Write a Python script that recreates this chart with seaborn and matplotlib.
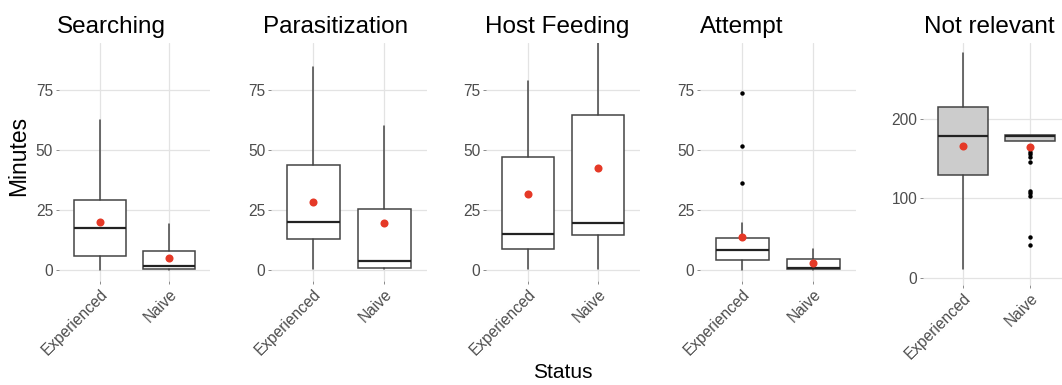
import matplotlib
matplotlib.use("Agg")
import matplotlib.pyplot as plt
import seaborn as sns
import pandas as pd

sns.set_theme(style="whitegrid")
plt.rcParams["font.family"] = ["Liberation Sans", "DejaVu Sans"]

behaviours = ["Searching", "Parasitization", "Host Feeding", "Attempt", "Not relevant"]
status = ["Experienced", "Naive"]

# Box summaries in minutes, one pair [Experienced, Naive] per behaviour
whisker_low = [[0, 0], [0.5, 0.5], [0.5, 0.5], [0, 0], [11, 172]]
q1 = [[6, 0.4], [13, 0.7], [8.6, 14.6], [4.2, 0.4], [130, 172]]
median = [[17.5, 1.8], [20, 3.9], [14.9, 19.4], [8.3, 0.7], [178.5, 178.5]]
q3 = [[29, 8], [43.8, 25.4], [47, 64.6], [13.2, 4.4], [215, 180.5]]
whisker_high = [[62.5, 19], [84.7, 60], [78.8, 97], [19.4, 8.6], [283, 180.5]]
mean_minutes = [[20.1, 4.9], [28.5, 19.4], [31.7, 42.6], [13.6, 2.8], [166.5, 165.2]]
outliers_experienced = [[], [], [], [73.6, 51.8, 36.1], []]
outliers_naive = [[], [], [], [], [159, 156, 152.5, 145.5, 109.7, 106.4, 103.4, 51, 41.2]]

y_ticks = [[0, 25, 50, 75]] * 4 + [[0, 100, 200]]
y_limits = [(-4.6, 94.6)] * 4 + [(-9.2, 296)]
box_fill = ["white"] * 4 + ["#cccccc"]

W, H = 1062, 385
fig = plt.figure(figsize=(W / 100, H / 100), dpi=100)
fig.patch.set_facecolor("white")

# panel extents in pixels: left, right, top, bottom
panels = [
    (58.6, 210.4, 43, 281),
    (270.7, 426.9, 43, 281),
    (486.0, 640.0, 43, 281),
    (699.7, 855.9, 43, 281),
    (922.8, 1070.2, 43, 285),
]
title_x = [57, 263, 485, 700, 924]

grey_text = "#4d4d4d"
red = "#e53927"

for i, name in enumerate(behaviours):
    l, r, t, b = panels[i]
    ax = fig.add_axes([l / W, (H - b) / H, (r - l) / W, (b - t) / H])
    ax.set_facecolor("white")
    ax.set_axisbelow(True)

    stats = []
    for j, s in enumerate(status):
        stats.append(dict(
            label=s,
            whislo=whisker_low[i][j], q1=q1[i][j], med=median[i][j],
            q3=q3[i][j], whishi=whisker_high[i][j], fliers=[],
        ))
    ax.bxp(
        stats, positions=[0, 1], widths=0.75, patch_artist=True,
        showfliers=False, showcaps=False,
        boxprops=dict(facecolor=box_fill[i], edgecolor="#444444", linewidth=1.1),
        medianprops=dict(color="#222222", linewidth=1.6, solid_capstyle="butt"),
        whiskerprops=dict(color="#444444", linewidth=1.1),
    )

    out_df = pd.DataFrame({
        "Status": [status[0]] * len(outliers_experienced[i]) + [status[1]] * len(outliers_naive[i]),
        "Minutes": outliers_experienced[i] + outliers_naive[i],
    })
    if len(out_df):
        sns.stripplot(data=out_df, x="Status", y="Minutes", order=status, jitter=False,
                      color="black", size=3.2, linewidth=0, ax=ax, zorder=4)

    mean_df = pd.DataFrame({"Status": status, "Minutes": mean_minutes[i]})
    sns.stripplot(data=mean_df, x="Status", y="Minutes", order=status, jitter=False,
                  color=red, size=5.8, linewidth=0, ax=ax, zorder=5)

    ax.set_xlim(-0.6, 1.6)
    ax.set_ylim(*y_limits[i])
    ax.set_yticks(y_ticks[i])
    ax.set_yticklabels([str(v) for v in y_ticks[i]])
    ax.set_xticks([0, 1])
    ax.set_xticklabels(status, rotation=45, ha="right", va="top", rotation_mode="anchor")
    ax.set_xlabel("")
    ax.set_ylabel("")

    ax.grid(True, axis="both", color="#e3e3e3", linewidth=0.9)
    ax.xaxis.grid(True)
    for sp in ax.spines.values():
        sp.set_visible(False)
    ax.tick_params(axis="both", which="major", length=2.5, width=0.7, color="#8a8a8a",
                   labelsize=11.2, labelcolor=grey_text, pad=1.5)
    ax.tick_params(axis="x", bottom=True)
    ax.tick_params(axis="y", left=True)

    fig.text(title_x[i] / W, (H - 33) / H, name, fontsize=17.5, color="black",
             ha="left", va="baseline")

fig.text(19 / W, (H - 156) / H, "Minutes", rotation=90, fontsize=16.5,
         ha="center", va="center", color="black")
fig.text(563 / W, (H - 372) / H, "Status", fontsize=15, ha="center", va="center",
         color="black")

fig.savefig("out.png", dpi=100, facecolor="white")
